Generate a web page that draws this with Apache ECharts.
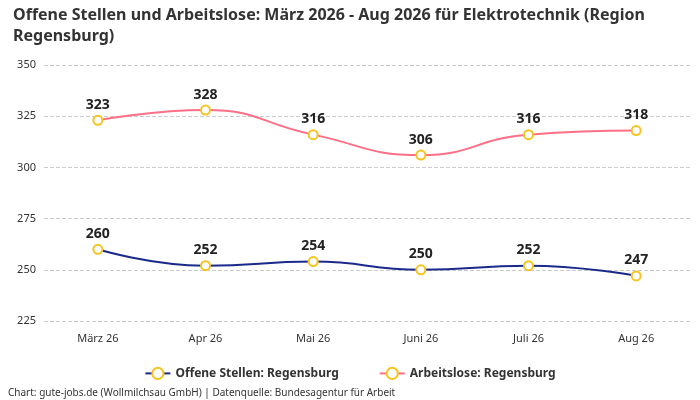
<!DOCTYPE html>
<html>
<head>
<meta charset="utf-8">
<script src="https://cdn.jsdelivr.net/npm/echarts@6/dist/echarts.min.js"></script>
<style>
html,body{margin:0;padding:0;background:#fff;}
#chart{width:700px;height:400px;}
</style>
</head>
<body>
<div id="chart"></div>
<script>
var months = ['März 26', 'Apr 26', 'Mai 26', 'Juni 26', 'Juli 26', 'Aug 26'];
var offeneStellen = [260, 252, 254, 250, 252, 247];
var arbeitslose = [323, 328, 316, 306, 316, 318];

var myChart = echarts.init(document.getElementById('chart'));
var font = 'Noto Sans';

function lineSeries(name, data, color) {
	return {
		name: name,
		type: 'line',
		smooth: true,
		data: data,
		symbol: 'circle',
		symbolSize: 9,
		lineStyle: { color: color, width: 2 },
		itemStyle: { color: '#fff', borderColor: '#f7c31f', borderWidth: 2 },
		label: {
			show: true,
			position: 'top',
			distance: 3,
			fontFamily: font,
			fontWeight: 'bold',
			fontSize: 14,
			color: '#222'
		}
	};
}

var option = {
	animation: false,
	textStyle: { fontFamily: font },
	title: {
		text: 'Offene Stellen und Arbeitslose: März 2026 - Aug 2026 für Elektrotechnik (Region\nRegensburg)',
		left: 8,
		top: 0,
		textStyle: { fontFamily: font, fontSize: 16, fontWeight: 'bold', color: '#333', lineHeight: 21 }
	},
	grid: { left: 44, right: 10, top: 65, bottom: 79 },
	legend: {
		bottom: 15,
		left: 'center',
		itemGap: 40,
		textStyle: { fontFamily: font, fontSize: 12, fontWeight: 'bold', color: '#333' },
		data: [
			{ name: 'Offene Stellen: Regensburg', itemStyle: { color: '#fff', borderColor: '#f7c31f', borderWidth: 2 }, lineStyle: { color: '#1a2a8a' } },
			{ name: 'Arbeitslose: Regensburg', itemStyle: { color: '#fff', borderColor: '#f7c31f', borderWidth: 2 }, lineStyle: { color: '#ff6f86' } }
		]
	},
	graphic: [{
		type: 'text',
		left: 8,
		bottom: 2,
		style: { text: 'Chart: gute-jobs.de (Wollmilchsau GmbH) | Datenquelle: Bundesagentur für Arbeit', fontFamily: font, fontSize: 10, fill: '#333' }
	}],
	xAxis: {
		type: 'category',
		data: months,
		axisLine: { show: false },
		axisTick: { show: false },
		axisLabel: { color: '#333', fontSize: 11, margin: 12 }
	},
	yAxis: {
		type: 'value',
		min: 225,
		max: 350,
		interval: 25,
		axisLabel: { color: '#333', fontSize: 11 },
		splitLine: { lineStyle: { type: 'dashed', color: '#ccc' } }
	},
	series: [
		lineSeries('Offene Stellen: Regensburg', offeneStellen, '#1a2a8a'),
		lineSeries('Arbeitslose: Regensburg', arbeitslose, '#ff6f86')
	]
};
myChart.setOption(option);
</script>
</body>
</html>
